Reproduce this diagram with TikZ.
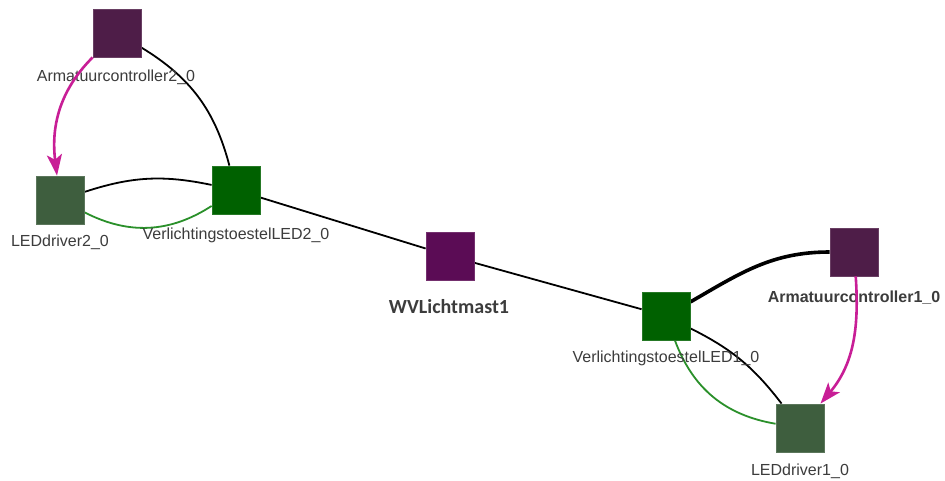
\documentclass[tikz,border=0pt]{standalone}
\usepackage{fontspec}
\setmainfont{Liberation Sans}
\newfontfamily\calibrifont{Carlito}
\usetikzlibrary{arrows.meta,backgrounds}

\definecolor{ctrlpurple}{HTML}{4E1D48}
\definecolor{mastpurple}{HTML}{5B0C55}
\definecolor{ledgreen}{HTML}{006100}
\definecolor{drivergreen}{HTML}{3E5E3E}
\definecolor{linkmagenta}{HTML}{C81E96}
\definecolor{linkgreen}{HTML}{2A902A}
\definecolor{labelgrey}{HTML}{3C3C3C}

\tikzset{
  sq/.style={rectangle, minimum size=48pt, inner sep=0pt, draw=#1!85!white, line width=0.8pt, fill=#1},
  lbl/.style={text=labelgrey, font=\fontsize{16}{18}\selectfont, inner sep=0pt},
  blink/.style={draw=black, line width=1.8pt},
  glink/.style={draw=linkgreen, line width=1.8pt},
  mlink/.style={draw=linkmagenta, line width=2.6pt, -{Stealth[length=21pt,width=15pt,inset=5pt]}},
}

\begin{document}
\begin{tikzpicture}[x=1pt,y=-1pt]
\useasboundingbox (0,0) rectangle (945,480);

% nodes
\node[sq=ctrlpurple]  (ac2) at (117,33)  {};
\node[sq=drivergreen] (ld2) at (60,200)  {};
\node[sq=ledgreen]    (vl2) at (236,190) {};
\node[sq=mastpurple]  (wv)  at (450,256) {};
\node[sq=ledgreen]    (vl1) at (666,316) {};
\node[sq=ctrlpurple]  (ac1) at (854,252) {};
\node[sq=drivergreen] (ld1) at (800,428) {};

% labels
\node[lbl] (t-ac2) at (116,77)  {Armatuurcontroller2\_0};
\node[lbl] (t-ld2) at (60,242)  {LEDdriver2\_0};
\node[lbl] (t-vl2) at (236,235) {VerlichtingstoestelLED2\_0};
\node[lbl, font=\calibrifont\bfseries\fontsize{20}{22}\selectfont] (t-wv) at (449,307) {WVLichtmast1};
\node[lbl] (t-vl1) at (666,358) {VerlichtingstoestelLED1\_0};
\node[lbl, font=\bfseries\fontsize{16}{18}\selectfont] (t-ac1) at (854,298) {Armatuurcontroller1\_0};
\node[lbl] (t-ld1) at (800,471) {LEDdriver1\_0};

% connectors, kept behind the squares
\begin{scope}[on background layer]
\fill[white] (0,0) rectangle (945,480);
\draw[blink] (ac2) to[bend left=22] (vl2);
\draw[blink] (ld2) to[bend left=15] (vl2);
\draw[glink] (ld2) to[bend right=30] (vl2);
\draw[blink] (vl2) -- (wv);
\draw[blink] (wv) -- (vl1);
\draw[draw=black, line width=3.6pt] (vl1) to[out=30,in=180] (ac1);
\draw[blink] (vl1) to[bend left=13] (ld1);
\draw[glink] (vl1) to[bend right=30] (ld1);
\end{scope}
\draw[mlink] (ac2) to[out=225,in=97] (ld2);
\draw[mlink] (ac1) to[out=-86,in=50] (ld1);
\end{tikzpicture}
\end{document}
